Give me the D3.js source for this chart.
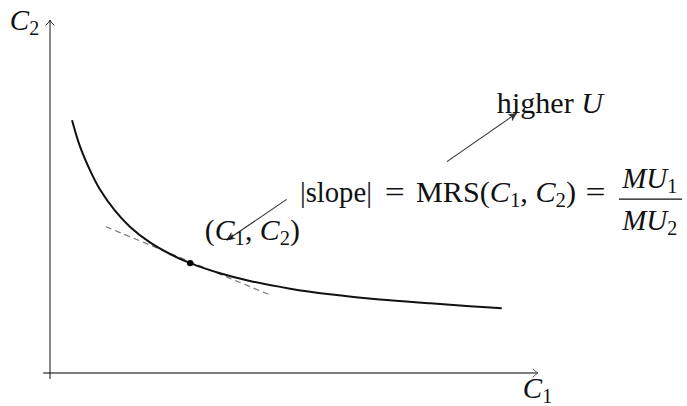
<!DOCTYPE html>
<html>
<head>
<meta charset="utf-8">
<script src="https://cdn.jsdelivr.net/npm/d3@7"></script>
<style>
  body { margin: 0; background: #fff; }
  svg { display: block; }
  text { font-family: 'Liberation Serif', 'DejaVu Serif', serif; fill: #111; }
</style>
</head>
<body>
<svg id="board" width="687" height="406"></svg>
<script>
// indifference curve (C1, C2)
const curveC1 = [0.45, 0.61, 0.82, 1.02, 1.33, 1.63, 2.04, 2.45, 2.86, 3.47, 4.08, 4.90, 5.71, 6.73, 7.76, 8.57, 9.22];
const curveC2 = [7.22, 6.48, 5.78, 5.24, 4.63, 4.18, 3.73, 3.40, 3.14, 2.85, 2.63, 2.41, 2.25, 2.10, 1.99, 1.91, 1.85];

// the bundle and its tangent (MRS line)
const bundle = [2.86, 3.14];
const tangentC1 = [1.14, 4.49];
const tangentC2 = [4.18, 2.23];

// annotation arrows: [fromC1, fromC2, toC1, toC2]
const arrows = [
  [4.83, 4.96, 3.61, 3.80],
  [8.10, 6.04, 9.52, 7.42],
];

const axisExtentC1 = [-0.14, 9.96];
const axisExtentC2 = [-0.17, 10.08];

var svg = d3.select('#board');

var x = d3.scaleLinear().domain([0, 10]).range([50, 540]);
var y = d3.scaleLinear().domain([0, 10]).range([373, 23]);

var defs = svg.append('defs');
defs.append('marker')
  .attr('id', 'stealth')
  .attr('viewBox', '0 -5 10 10')
  .attr('refX', 9)
  .attr('refY', 0)
  .attr('markerWidth', 9)
  .attr('markerHeight', 9)
  .attr('markerUnits', 'userSpaceOnUse')
  .attr('orient', 'auto')
  .append('path')
  .attr('d', 'M0,-4.5L10,0L0,4.5L2.5,0Z')
  .attr('fill', '#333');

// open chevron, like tikz "->"
function chevron(g, tx, ty, angle, color) {
  g.append('path')
    .attr('d', 'M-5,-4Q-2,-0.8 0,0Q-2,0.8 -5,4')
    .attr('transform', `translate(${tx},${ty}) rotate(${angle})`)
    .attr('fill', 'none')
    .attr('stroke', color)
    .attr('stroke-width', 1)
    .attr('stroke-linecap', 'round');
}

var axes = svg.append('g');
// x axis
axes.append('line')
  .attr('x1', x(axisExtentC1[0])).attr('x2', x(axisExtentC1[1]))
  .attr('y1', y(0)).attr('y2', y(0))
  .attr('stroke', '#555').attr('stroke-width', 1.3);
chevron(axes, x(axisExtentC1[1]), y(0), 0, '#555');
// y axis
axes.append('line')
  .attr('x1', x(0)).attr('x2', x(0))
  .attr('y1', y(axisExtentC2[0])).attr('y2', y(axisExtentC2[1]))
  .attr('stroke', '#111').attr('stroke-width', 1);
chevron(axes, x(0), y(axisExtentC2[1]), -90, '#111');

const fs = 29;
const subFs = 20;

// axis labels
function varLabel(g, letter, sub, px, py) {
  var t = g.append('text')
    .attr('x', px).attr('y', py)
    .style('font-size', fs + 'px');
  t.append('tspan').style('font-style', 'italic').text(letter);
  t.append('tspan').attr('dy', 5).style('font-size', subFs + 'px').text(sub);
  return t;
}
varLabel(svg, 'C', '2', x(-0.82), y(9.80));
varLabel(svg, 'C', '1', x(9.65), y(-0.70));

// tangent line
svg.append('line')
  .attr('x1', x(tangentC1[0])).attr('y1', y(tangentC2[0]))
  .attr('x2', x(tangentC1[1])).attr('y2', y(tangentC2[1]))
  .attr('stroke', '#777')
  .attr('stroke-width', 1.2)
  .attr('stroke-dasharray', '6,4');

// indifference curve
var pts = curveC1.map((c, i) => [c, curveC2[i]]);
var line = d3.line()
  .x(d => x(d[0]))
  .y(d => y(d[1]))
  .curve(d3.curveCatmullRom);
svg.append('path')
  .datum(pts)
  .attr('d', line)
  .attr('fill', 'none')
  .attr('stroke', '#111')
  .attr('stroke-width', 2);

svg.append('circle')
  .attr('cx', x(bundle[0]))
  .attr('cy', y(bundle[1]))
  .attr('r', 3.2)
  .attr('fill', '#000');

// arrows
svg.selectAll('.arrow')
  .data(arrows)
  .join('line')
  .attr('class', 'arrow')
  .attr('x1', d => x(d[0])).attr('y1', d => y(d[1]))
  .attr('x2', d => x(d[2])).attr('y2', d => y(d[3]))
  .attr('stroke', '#333')
  .attr('stroke-width', 1.1)
  .attr('marker-end', 'url(#stealth)');

// "higher U"
var hu = svg.append('text')
  .attr('x', x(9.12)).attr('y', y(7.43))
  .attr('textLength', 106)
  .attr('lengthAdjust', 'spacingAndGlyphs')
  .style('font-size', fs + 'px');
hu.append('tspan').text('higher ');
hu.append('tspan').style('font-style', 'italic').text('U');

// "(C1, C2)" pieces
function pairSpans(t) {
  t.append('tspan').style('font-style', 'italic').text('C');
  t.append('tspan').attr('dy', 5).style('font-size', subFs + 'px').text('1');
  t.append('tspan').attr('dy', -5).text(', ');
  t.append('tspan').style('font-style', 'italic').text('C');
  t.append('tspan').attr('dy', 5).style('font-size', subFs + 'px').text('2');
  t.append('tspan').attr('dy', -5).text(')');
}
var pair = svg.append('text')
  .attr('x', x(3.16)).attr('y', y(3.80))
  .attr('textLength', 95)
  .attr('lengthAdjust', 'spacingAndGlyphs')
  .style('font-size', fs + 'px');
pair.append('tspan').text('(');
pairSpans(pair);

// equation
var eqY = y(4.90);
svg.append('text')
  .attr('x', x(5.10)).attr('y', eqY)
  .attr('textLength', 72)
  .attr('lengthAdjust', 'spacingAndGlyphs')
  .style('font-size', fs + 'px')
  .text('|slope|');
[6.83, 10.93].forEach(c => {
  svg.append('text')
    .attr('x', x(c)).attr('y', eqY)
    .attr('textLength', 20)
    .attr('lengthAdjust', 'spacingAndGlyphs')
    .style('font-size', fs + 'px')
    .text('=');
});
var mrs = svg.append('text')
  .attr('x', x(7.47)).attr('y', eqY)
  .attr('textLength', 160)
  .attr('lengthAdjust', 'spacingAndGlyphs')
  .style('font-size', fs + 'px');
mrs.append('tspan').text('MRS(');
pairSpans(mrs);

// fraction MU1 / MU2
var fracX = x(12.24);
svg.append('line')
  .attr('x1', x(11.61)).attr('x2', x(12.90))
  .attr('y1', y(4.97)).attr('y2', y(4.97))
  .attr('stroke', '#111').attr('stroke-width', 1.2);
[['1', y(5.29)], ['2', y(4.09)]].forEach(([sub, py]) => {
  var t = svg.append('text')
    .attr('x', fracX).attr('y', py)
    .attr('text-anchor', 'middle')
    .style('font-size', fs + 'px');
  t.append('tspan').style('font-style', 'italic').text('MU');
  t.append('tspan').attr('dy', 5).style('font-size', subFs + 'px').text(sub);
});
</script>
</body>
</html>
